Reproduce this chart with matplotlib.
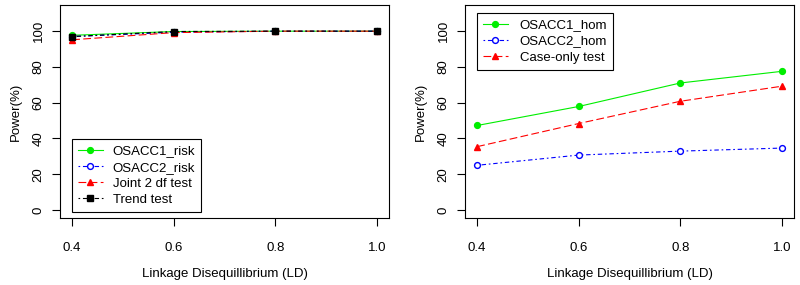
import matplotlib
matplotlib.use("Agg")
import matplotlib.pyplot as plt

plt.rcParams["font.family"] = ["Liberation Sans", "DejaVu Sans"]

# data
ld = [0.4, 0.6, 0.8, 1.0]
osacc1_risk = [97.5, 99.6, 99.8, 99.8]
osacc2_risk = [96.8, 99.2, 99.8, 99.8]
joint_2df = [95.0, 99.0, 99.8, 99.8]
trend = [96.8, 99.6, 99.8, 99.8]

osacc1_hom = [47.2, 57.8, 70.9, 77.4]
osacc2_hom = [25.0, 30.7, 32.9, 34.6]
case_only = [35.4, 48.3, 60.7, 69.1]

xticks = [0.4, 0.6, 0.8, 1.0]
yticks = [0, 20, 40, 60, 80, 100]

fig = plt.figure(figsize=(8, 2.85), dpi=100)
ax1 = fig.add_axes([60/800, 67/285, 329/800, 213/285])
ax2 = fig.add_axes([465/800, 67/285, 329/800, 213/285])

dotdash = (0, (1.5, 2.5, 4, 2.5))
longdash = (0, (7, 3))

kw = dict(linewidth=0.8, markersize=4.2)
ax1.plot(ld, osacc1_risk, color="#00ee00", linestyle="-", marker="o", label="OSACC1_risk", **kw)
ax1.plot(ld, osacc2_risk, color="blue", linestyle=dotdash, marker="o", markerfacecolor="white",
         label="OSACC2_risk", **kw)
ax1.plot(ld, joint_2df, color="red", linestyle=longdash, marker="^", label="Joint 2 df test", **kw)
ax1.plot(ld, trend, color="black", linestyle=dotdash, marker="s", label="Trend test", **kw)

ax2.plot(ld, osacc1_hom, color="#00ee00", linestyle="-", marker="o", label="OSACC1_hom", **kw)
ax2.plot(ld, osacc2_hom, color="blue", linestyle=dotdash, marker="o", markerfacecolor="white",
         label="OSACC2_hom", **kw)
ax2.plot(ld, case_only, color="red", linestyle=longdash, marker="^", label="Case-only test", **kw)

for ax in (ax1, ax2):
    ax.set_xlim(0.376, 1.024)
    ax.set_ylim(-4.4, 114.4)
    ax.set_xticks(xticks)
    ax.set_xticklabels(["0.4", "0.6", "0.8", "1.0"])
    ax.set_yticks(yticks)
    ax.set_yticklabels([str(v) for v in yticks], rotation=90, va="center")
    ax.tick_params(direction="out", length=6, width=0.8, labelsize=9.5)
    ax.tick_params(axis="x", pad=11)
    ax.tick_params(axis="y", pad=5)
    for s in ax.spines.values():
        s.set_linewidth(0.8)
    ax.set_xlabel("Linkage Disequillibrium (LD)", fontsize=9.5, labelpad=10)
    ax.set_ylabel("Power(%)", fontsize=9.5, labelpad=8)

leg_kw = dict(fontsize=9.5, fancybox=False, edgecolor="black", framealpha=1, borderaxespad=0,
              handlelength=1.9, labelspacing=0.3, borderpad=0.45, handletextpad=0.75)
leg1 = ax1.legend(loc="lower left", bbox_to_anchor=(0.036, 0.028), **leg_kw)
leg1.get_frame().set_linewidth(0.8)
leg_kw["handletextpad"] = 0.9
leg2 = ax2.legend(loc="upper left", bbox_to_anchor=(0.036, 0.962), **leg_kw)
leg2.get_frame().set_linewidth(0.8)

fig.savefig("out.png", dpi=100)
